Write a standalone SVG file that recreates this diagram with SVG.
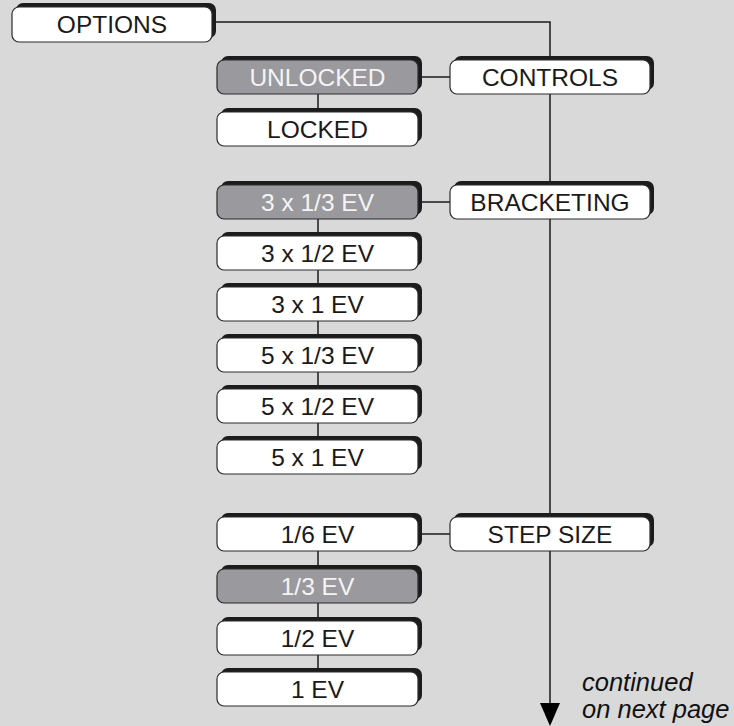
<svg xmlns="http://www.w3.org/2000/svg" width="734" height="726" viewBox="0 0 734 726">
<defs>
<style>
.sh{fill:#1c1c1e}
.bx{fill:#ffffff;stroke:#2a2a2a;stroke-width:1.2}
.gy{fill:#9a999e;stroke:#2a2a2a;stroke-width:1.2}
.t{font-family:"Liberation Sans",Arial,sans-serif;font-size:24.5px;text-anchor:middle;fill:#1a1a1a}
.tw{font-family:"Liberation Sans",Arial,sans-serif;font-size:24.5px;text-anchor:middle;fill:#f4f4f4}
.ln{stroke:#1a1a1a;stroke-width:1.5;fill:none}
.it{font-family:"Liberation Sans",Arial,sans-serif;font-size:25.5px;font-style:italic;fill:#111}
</style>
</defs>
<rect width="734" height="726" fill="#d9d9d9"/>
<g id="connectors">
<path class="ln" d="M214,22 H550 V704"/>
<path d="M540,703 L560,703 L550,726 Z" fill="#000"/>
<line class="ln" x1="420" y1="77" x2="450" y2="77"/>
<line class="ln" x1="318" y1="94" x2="318" y2="112"/>
<line class="ln" x1="420" y1="202" x2="450" y2="202"/>
<line class="ln" x1="318" y1="219" x2="318" y2="440"/>
<line class="ln" x1="420" y1="534" x2="450" y2="534"/>
<line class="ln" x1="318" y1="551" x2="318" y2="672"/>
</g>
<g id="options"><rect class="sh" x="16" y="3" width="200" height="35" rx="7"/><rect class="bx" x="12" y="7" width="200" height="35" rx="7"/><text class="t" x="112" y="32.5">OPTIONS</text></g>
<g id="unlocked"><rect class="sh" x="221" y="56" width="201" height="34" rx="7"/><rect class="gy" x="217" y="60" width="201" height="34" rx="7"/><text class="tw" x="317.5" y="85.5">UNLOCKED</text></g>
<g id="locked"><rect class="sh" x="221" y="108" width="201" height="34" rx="7"/><rect class="bx" x="217" y="112" width="201" height="34" rx="7"/><text class="t" x="317.5" y="137.5">LOCKED</text></g>
<g id="controls"><rect class="sh" x="454" y="56" width="200" height="34" rx="7"/><rect class="bx" x="450" y="60" width="200" height="34" rx="7"/><text class="t" x="550" y="85.5">CONTROLS</text></g>
<g id="b1"><rect class="sh" x="221" y="181" width="201" height="34" rx="7"/><rect class="gy" x="217" y="185" width="201" height="34" rx="7"/><text class="tw" x="317.5" y="210.5">3 x 1/3 EV</text></g>
<g id="bracketing"><rect class="sh" x="454" y="181" width="200" height="34" rx="7"/><rect class="bx" x="450" y="185" width="200" height="34" rx="7"/><text class="t" x="550" y="210.5">BRACKETING</text></g>
<g id="b2"><rect class="sh" x="221" y="232" width="201" height="34" rx="7"/><rect class="bx" x="217" y="236" width="201" height="34" rx="7"/><text class="t" x="317.5" y="261.5">3 x 1/2 EV</text></g>
<g id="b3"><rect class="sh" x="221" y="283" width="201" height="34" rx="7"/><rect class="bx" x="217" y="287" width="201" height="34" rx="7"/><text class="t" x="317.5" y="312.5">3 x 1 EV</text></g>
<g id="b4"><rect class="sh" x="221" y="334" width="201" height="34" rx="7"/><rect class="bx" x="217" y="338" width="201" height="34" rx="7"/><text class="t" x="317.5" y="363.5">5 x 1/3 EV</text></g>
<g id="b5"><rect class="sh" x="221" y="385" width="201" height="34" rx="7"/><rect class="bx" x="217" y="389" width="201" height="34" rx="7"/><text class="t" x="317.5" y="414.5">5 x 1/2 EV</text></g>
<g id="b6"><rect class="sh" x="221" y="436" width="201" height="34" rx="7"/><rect class="bx" x="217" y="440" width="201" height="34" rx="7"/><text class="t" x="317.5" y="465.5">5 x 1 EV</text></g>
<g id="s1"><rect class="sh" x="221" y="513" width="201" height="34" rx="7"/><rect class="bx" x="217" y="517" width="201" height="34" rx="7"/><text class="t" x="317.5" y="542.5">1/6 EV</text></g>
<g id="stepsize"><rect class="sh" x="454" y="513" width="200" height="34" rx="7"/><rect class="bx" x="450" y="517" width="200" height="34" rx="7"/><text class="t" x="550" y="542.5">STEP SIZE</text></g>
<g id="s2"><rect class="sh" x="221" y="565" width="201" height="34" rx="7"/><rect class="gy" x="217" y="569" width="201" height="34" rx="7"/><text class="tw" x="317.5" y="594.5">1/3 EV</text></g>
<g id="s3"><rect class="sh" x="221" y="617" width="201" height="34" rx="7"/><rect class="bx" x="217" y="621" width="201" height="34" rx="7"/><text class="t" x="317.5" y="646.5">1/2 EV</text></g>
<g id="s4"><rect class="sh" x="221" y="668" width="201" height="34" rx="7"/><rect class="bx" x="217" y="672" width="201" height="34" rx="7"/><text class="t" x="317.5" y="697.5">1 EV</text></g>
<g id="note"><text class="it" x="582" y="691">continued</text><text class="it" x="582" y="718">on next page</text></g>
</svg>
